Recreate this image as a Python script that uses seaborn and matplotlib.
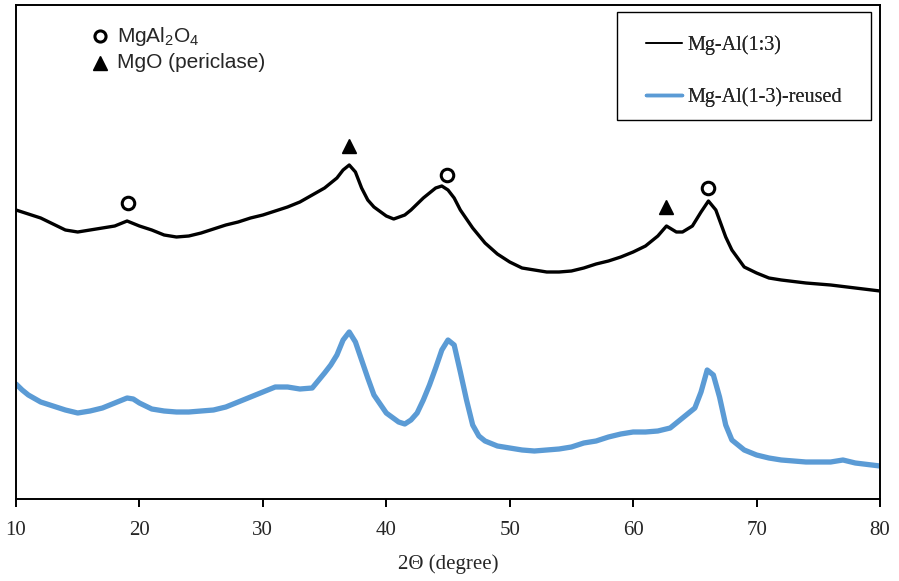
import matplotlib
matplotlib.use("Agg")
import matplotlib.pyplot as plt
from matplotlib.lines import Line2D
from matplotlib.patches import Rectangle
import seaborn as sns
import pandas as pd

# ---- data (2-theta in degrees, intensity in arbitrary units) ----
fresh_2theta = [10, 11, 12, 13, 14, 15, 16, 17, 18, 19, 20, 21, 22, 23, 24, 25, 26, 27, 28, 29,
                30, 31, 32, 33, 34, 35, 35.5, 36, 36.5, 37, 37.5, 38, 38.5, 39, 40, 40.6, 41.5,
                42, 43, 44, 44.5, 45, 45.5, 46, 47, 48, 49, 50, 51, 52, 53, 54, 55, 56, 57, 58,
                59, 60, 61, 62, 62.7, 63.5, 64, 64.8, 65.5, 66.1, 66.7, 67.5, 68, 69, 70, 71, 72,
                74, 76, 78, 80]
fresh_pix = [210, 214, 218, 224, 230, 232, 230, 228, 226, 221, 226, 230, 235, 237, 236, 233, 229,
             225, 222, 218, 215, 211, 207, 202, 195, 188, 183, 178, 170, 165, 172, 188, 200, 207,
             216, 219, 215, 210, 198, 188, 186, 190, 198, 210, 228, 243, 254, 262, 268, 270, 272,
             272, 271, 268, 264, 261, 257, 252, 246, 236, 226, 232, 232, 226, 212, 201, 210, 237,
             250, 267, 273, 278, 280, 283, 285, 288, 291]
fresh_intensity = [499 - v for v in fresh_pix]

reused_2theta = [10, 10.5, 11, 12, 13, 14, 15, 16, 17, 18, 19, 19.5, 20, 21, 22, 23, 24, 25, 26,
                 27, 28, 29, 30, 31, 32, 33, 34, 35, 35.5, 36, 36.5, 37, 37.5, 38, 38.5, 39, 40,
                 41, 41.5, 42, 42.5, 43, 43.5, 44, 44.5, 45, 45.5, 46, 46.5, 47, 47.5, 48, 49,
                 50, 51, 52, 53, 54, 55, 56, 57, 58, 59, 60, 61, 62, 63, 64, 65, 65.5, 66, 66.5,
                 67, 67.5, 68, 69, 70, 71, 72, 74, 76, 77, 78, 80]
reused_pix = [384, 390, 395, 402, 406, 410, 413, 411, 408, 403, 398, 399, 403, 409, 411, 412, 412,
              411, 410, 407, 402, 397, 392, 387, 387, 389, 388, 373, 365, 355, 340, 332, 342, 360,
              378, 395, 413, 422, 424, 420, 413, 400, 385, 368, 350, 340, 345, 372, 400, 425, 436,
              441, 446, 448, 450, 451, 450, 449, 447, 443, 441, 437, 434, 432, 432, 431, 428, 418,
              408, 392, 370, 375, 397, 425, 440, 450, 455, 458, 460, 462, 462, 460, 463, 466]
reused_intensity = [499 - v for v in reused_pix]

series_names = ["Mg-Al(1:3)", "Mg-Al(1-3)-reused"]
series_colors = ["#000000", "#5B9BD5"]

# phase markers
spinel_2theta = [19.1, 44.9, 66.1]
spinel_height = [499 - 203, 499 - 175, 499 - 188]
periclase_2theta = [37.0, 62.7]
periclase_height = [499 - 146, 499 - 207]

x_ticks = [10, 20, 30, 40, 50, 60, 70, 80]

df = pd.concat([
    pd.DataFrame({"2theta": fresh_2theta, "intensity": fresh_intensity, "sample": series_names[0]}),
    pd.DataFrame({"2theta": reused_2theta, "intensity": reused_intensity, "sample": series_names[1]}),
], ignore_index=True)

sns.set_style("white")
plt.rcParams["mathtext.fontset"] = "custom"
plt.rcParams["mathtext.rm"] = "Liberation Sans"
plt.rcParams["mathtext.it"] = "Liberation Sans"
plt.rcParams["mathtext.bf"] = "Liberation Sans"

fig = plt.figure(figsize=(8.99, 5.81), dpi=100)
ax = fig.add_axes([16 / 899, (581 - 499) / 581, 864 / 899, 494 / 581])

sns.lineplot(data=df[df["sample"] == series_names[0]], x="2theta", y="intensity",
             color=series_colors[0], lw=2.4, ax=ax, label=series_names[0])
sns.lineplot(data=df[df["sample"] == series_names[1]], x="2theta", y="intensity",
             color=series_colors[1], lw=3.8, ax=ax, label=series_names[1])

ax.plot(spinel_2theta, spinel_height, ls="none", marker="o", ms=9, mfc="white",
        mec="black", mew=2.2, zorder=5)
ax.plot(periclase_2theta, periclase_height, ls="none", marker="^", ms=10, mfc="black",
        mec="black", zorder=5)

ax.set_xlim(10, 80)
ax.set_ylim(0, 494)
ax.set_xticks(x_ticks)
ax.set_xticklabels([str(t) for t in x_ticks], family="Liberation Serif", fontsize=15)
ax.set_yticks([])
ax.tick_params(axis="x", direction="out", length=6, width=1.4, color="black", pad=10, bottom=True)
for s in ax.spines.values():
    s.set_visible(True)
    s.set_color("black")
    s.set_linewidth(1.4)
ax.set_xlabel("2\u0398 (degree)", family="Liberation Serif", fontsize=15, labelpad=10)
ax.set_ylabel("")

# sample legend: frame drawn as a box, entries as a frameless legend
ax.add_patch(Rectangle(((617 - 16) / 864, (499 - 120) / 494), 254 / 864, 108 / 494,
                       transform=ax.transAxes, facecolor="white", edgecolor="black",
                       lw=1.0, zorder=6))
handles = [Line2D([], [], color=series_colors[0], lw=1.2),
           Line2D([], [], color=series_colors[1], lw=2.5)]
leg = ax.legend(handles, series_names, loc="upper left",
                bbox_to_anchor=((646 - 16) / 864, (499 - 35) / 494),
                borderaxespad=0, frameon=False,
                prop={"family": "Liberation Serif", "size": 14.5},
                handlelength=1.8, handletextpad=0.25, labelspacing=1.6, borderpad=0.0)
leg.set_zorder(7)
ax.add_artist(leg)

# phase key
key_x = (100 - 16) / 864
ax.plot([key_x], [(499 - 36) / 494], transform=ax.transAxes, marker="o", ms=8, mfc="white",
        mec="black", mew=2.2, ls="none", clip_on=False)
ax.plot([key_x], [(499 - 63) / 494], transform=ax.transAxes, marker="^", ms=10, mfc="black",
        mec="black", ls="none", clip_on=False)
ax.text((117 - 16) / 864, (499 - 36) / 494, "MgAl$_2$O$_4$", transform=ax.transAxes,
        va="center", ha="left", family="Liberation Sans", fontsize=15)
ax.text((117 - 16) / 864, (499 - 63) / 494, "MgO (periclase)", transform=ax.transAxes,
        va="center", ha="left", family="Liberation Sans", fontsize=15)

fig.savefig("out.png", dpi=100)
